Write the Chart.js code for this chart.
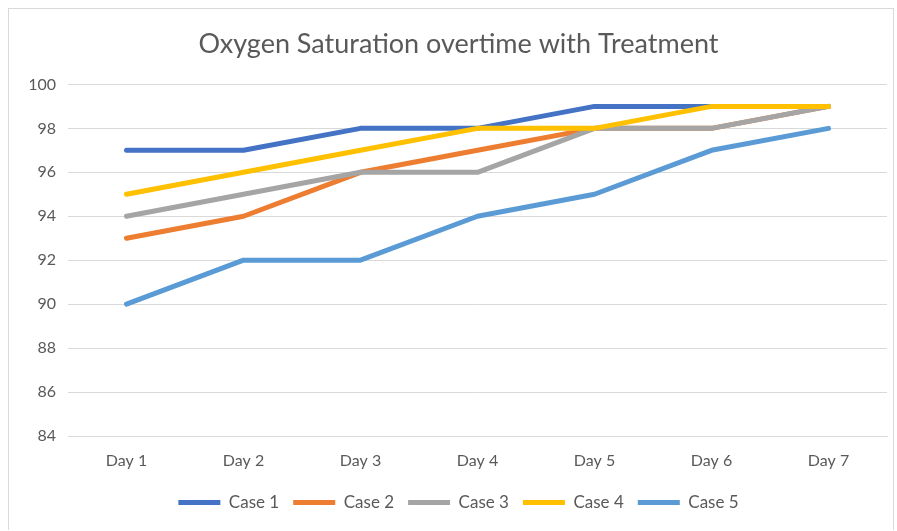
<!DOCTYPE html>
<html>
<head>
<meta charset="utf-8">
<script src="https://cdn.jsdelivr.net/npm/chart.js@4"></script>
<style>
    html, body { margin: 0; padding: 0; background: #fff; }
    #wrap { position: absolute; left: 8px; top: 8px; width: 886px; height: 522px; border: 1px solid #d9d9d9; border-bottom: none; box-sizing: border-box; }
    #box { position: absolute; left: 0; top: 0; width: 897px; height: 531px; }
</style>
</head>
<body>
<div id="wrap"></div>
<div id="box"><canvas id="oxChart" width="897" height="531"></canvas></div>
<script>
// data
const days = ['Day 1', 'Day 2', 'Day 3', 'Day 4', 'Day 5', 'Day 6', 'Day 7'];
const case1 = [97, 97, 98, 98, 99, 99, 99];
const case2 = [93, 94, 96, 97, 98, 98, 99];
const case3 = [94, 95, 96, 96, 98, 98, 99];
const case4 = [95, 96, 97, 98, 98, 99, 99];
const case5 = [90, 92, 92, 94, 95, 97, 98];

const textColor = '#595959';
const gridColor = '#d9d9d9';
const fontFamily = 'Lato, "Open Sans", sans-serif';

// later series drawn on top, like the spreadsheet
function series(label, data, color, idx) {
    return {
        label: label,
        data: data,
        borderColor: color,
        backgroundColor: color,
        borderWidth: 5,
        borderCapStyle: 'round',
        borderJoinStyle: 'round',
        pointRadius: 0,
        tension: 0,
        fill: false,
        order: -idx
    };
}

const ctx = document.getElementById('oxChart').getContext('2d');
new Chart(ctx, {
    type: 'line',
    data: {
        labels: days,
        datasets: [
            series('Case 1', case1, '#4472C4', 0),
            series('Case 2', case2, '#ED7D31', 1),
            series('Case 3', case3, '#A5A5A5', 2),
            series('Case 4', case4, '#FFC000', 3),
            series('Case 5', case5, '#5B9BD5', 4)
        ]
    },
    options: {
        responsive: false,
        animation: false,
        layout: {
            padding: { left: 30, right: 10, top: 14, bottom: 10 }
        },
        plugins: {
            title: {
                display: true,
                text: 'Oxygen Saturation overtime with Treatment',
                color: textColor,
                font: { family: fontFamily, size: 27, weight: 'normal' },
                padding: { top: 14, bottom: 24 }
            },
            legend: {
                position: 'bottom',
                labels: {
                    color: textColor,
                    font: { family: fontFamily, size: 17 },
                    boxWidth: 42,
                    boxHeight: 5,
                    padding: 14,
                    sort: (a, b) => a.datasetIndex - b.datasetIndex,
                    generateLabels: (chart) => {
                        const items = Chart.defaults.plugins.legend.labels.generateLabels(chart);
                        items.forEach(it => { it.lineWidth = 0; });
                        return items;
                    }
                }
            },
            tooltip: { enabled: false }
        },
        scales: {
            x: {
                offset: true,
                grid: { display: false, drawTicks: false },
                border: { color: gridColor, width: 1 },
                ticks: {
                    color: textColor,
                    font: { family: fontFamily, size: 16 },
                    padding: 15
                },
                afterFit: (scale) => { scale.height = 44; }
            },
            y: {
                min: 84,
                max: 100,
                ticks: {
                    stepSize: 2,
                    color: textColor,
                    font: { family: fontFamily, size: 16 },
                    padding: 12
                },
                grid: { color: gridColor, drawTicks: false },
                border: { display: false },
                afterFit: (scale) => { scale.width = 38; }
            }
        }
    }
});
</script>
</body>
</html>
